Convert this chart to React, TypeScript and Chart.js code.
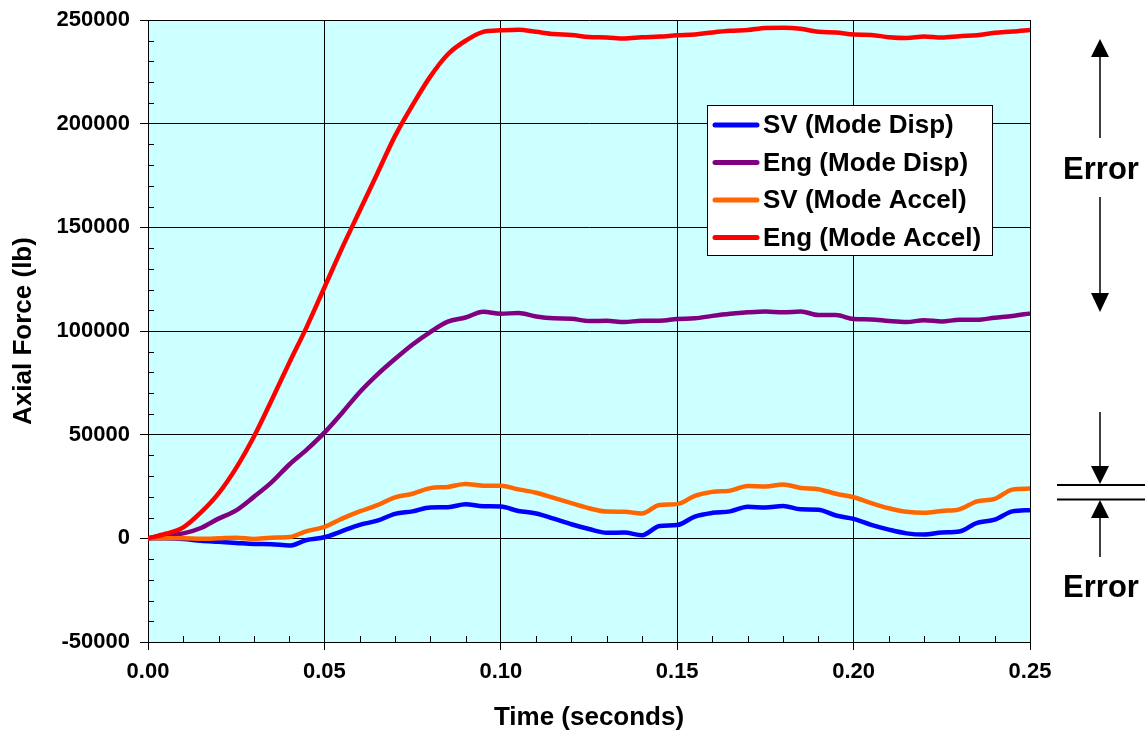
import React, { useEffect, useRef } from "react";
import { Chart, registerables } from "chart.js";

Chart.register(...registerables);

// ---------------- data ----------------
const timeSec = [
  0, 0.005, 0.01, 0.015, 0.02, 0.025, 0.03, 0.035, 0.04, 0.045,
  0.05, 0.055, 0.06, 0.065, 0.07, 0.075, 0.08, 0.085, 0.09, 0.095,
  0.1, 0.105, 0.11, 0.115, 0.12, 0.125, 0.13, 0.135, 0.14, 0.145,
  0.15, 0.155, 0.16, 0.165, 0.17, 0.175, 0.18, 0.185, 0.19, 0.195,
  0.2, 0.205, 0.21, 0.215, 0.22, 0.225, 0.23, 0.235, 0.24, 0.245, 0.25,
];

const svModeDisp = [
  0, 0, -300, -1200, -1700, -2200, -2700, -2800, -3500, -800,
  500, 3500, 6500, 8500, 11800, 13000, 14900, 15000, 16400, 15500,
  15300, 13200, 12000, 9500, 6800, 4500, 2700, 2800, 1500, 5900,
  6400, 10500, 12300, 13000, 15200, 14900, 15600, 14000, 13800, 11000,
  9400, 6500, 4200, 2400, 1800, 2800, 3300, 7500, 9000, 13000, 13600,
];

const engModeDisp = [
  0, 1500, 2400, 5000, 9500, 13500, 20000, 27000, 35500, 42800,
  51000, 60500, 70500, 79000, 86500, 93500, 99500, 104500, 106500, 109300,
  108300, 108700, 107000, 106100, 105900, 104800, 104900, 104300, 105000, 105000,
  105800, 106100, 107300, 108300, 109000, 109400, 109000, 109400, 107700, 107700,
  105800, 105600, 104800, 104300, 105200, 104600, 105400, 105400, 106400, 107200, 108500,
];

const svModeAccel = [
  0, 0, 0, -200, 0, 300, -300, 300, 600, 3500,
  5500, 9500, 13000, 16000, 19800, 21500, 24200, 24800, 26200, 25400,
  25400, 23600, 22000, 19500, 17000, 14500, 12900, 12800, 12000, 16100,
  16500, 20500, 22400, 23000, 25300, 25000, 26000, 24300, 23700, 21500,
  19800, 17000, 14500, 12800, 12300, 13200, 14000, 17800, 19000, 23500, 24000,
];

const engModeAccel = [
  0, 2200, 5300, 12500, 21700, 34000, 49000, 66500, 84500, 102000,
  121000, 140000, 158000, 176000, 194000, 209000, 222700, 233500, 240000, 244300,
  245000, 245300, 244300, 243200, 242800, 241800, 241600, 241100, 241700, 242000,
  242600, 243000, 244000, 244800, 245200, 246200, 246300, 245800, 244300, 244000,
  243000, 242800, 241700, 241300, 242000, 241500, 242200, 242600, 243800, 244400, 245200,
];

const seriesLabels = [
  "SV (Mode Disp)",
  "Eng (Mode Disp)",
  "SV (Mode Accel)",
  "Eng (Mode Accel)",
];
const seriesValues = [svModeDisp, engModeDisp, svModeAccel, engModeAccel];
const seriesColors = ["#0000FF", "#800080", "#FF6600", "#FF0000"];

const xMin = 0;
const xMax = 0.25;
const xMajorStep = 0.05;
const xMinorStep = 0.01;
const yMin = -50000;
const yMax = 250000;
const yMajorStep = 50000;
const yMinorStep = 10000;

const xTitle = "Time (seconds)";
const yTitle = "Axial Force (lb)";
const errorLabel = "Error";

const FONT = "'Liberation Sans', Arial, Helvetica, sans-serif";

// ---------------- plugins ----------------
const backgroundPlugin = {
  id: "plotBackground",
  beforeDraw(chart: any) {
    const { ctx, chartArea } = chart;
    ctx.save();
    ctx.fillStyle = "#FFFFFF";
    ctx.fillRect(0, 0, chart.width, chart.height);
    ctx.fillStyle = "#CCFFFF";
    ctx.fillRect(chartArea.left, chartArea.top, chartArea.right - chartArea.left, chartArea.bottom - chartArea.top);
    ctx.restore();
  },
};

const minorTickPlugin = {
  id: "minorTicks",
  beforeDatasetsDraw(chart: any) {
    const { ctx, chartArea, scales } = chart;
    const xs = scales.x;
    const ys = scales.y;
    ctx.save();
    ctx.strokeStyle = "#000000";
    ctx.lineWidth = 1;
    ctx.beginPath();
    const nY = Math.round((yMax - yMin) / yMinorStep);
    for (let i = 1; i < nY; i++) {
      if (i % Math.round(yMajorStep / yMinorStep) === 0) continue;
      const py = Math.round(ys.getPixelForValue(yMin + i * yMinorStep)) + 0.5;
      ctx.moveTo(chartArea.left, py);
      ctx.lineTo(chartArea.left + 6, py);
    }
    const nX = Math.round((xMax - xMin) / xMinorStep);
    for (let i = 1; i < nX; i++) {
      if (i % Math.round(xMajorStep / xMinorStep) === 0) continue;
      const px = Math.round(xs.getPixelForValue(xMin + i * xMinorStep)) + 0.5;
      ctx.moveTo(px, chartArea.bottom);
      ctx.lineTo(px, chartArea.bottom - 6);
    }
    ctx.stroke();
    ctx.restore();
  },
};

function drawArrowHead(ctx: CanvasRenderingContext2D, x: number, tipY: number, baseY: number) {
  ctx.beginPath();
  ctx.moveTo(x, tipY);
  ctx.lineTo(x - 9, baseY);
  ctx.lineTo(x + 9, baseY);
  ctx.closePath();
  ctx.fill();
}

const overlayPlugin = {
  id: "overlay",
  afterDraw(chart: any) {
    const { ctx } = chart;
    ctx.save();

    // legend
    const lx = 707;
    const ly = 105;
    const lw = 285;
    const lh = 150;
    ctx.fillStyle = "#FFFFFF";
    ctx.fillRect(lx, ly, lw, lh);
    ctx.strokeStyle = "#000000";
    ctx.lineWidth = 1;
    ctx.strokeRect(lx + 0.5, ly + 0.5, lw, lh);
    ctx.font = `bold 26px ${FONT}`;
    ctx.textBaseline = "middle";
    ctx.textAlign = "left";
    chart.data.datasets.forEach((ds: any, i: number) => {
      const rowY = ly + 20 + i * 37.5;
      ctx.strokeStyle = ds.borderColor;
      ctx.lineWidth = 5;
      ctx.lineCap = "round";
      ctx.beginPath();
      ctx.moveTo(lx + 8, rowY);
      ctx.lineTo(lx + 50, rowY);
      ctx.stroke();
      ctx.fillStyle = "#000000";
      ctx.fillText(ds.label, lx + 56, rowY + 1);
    });

    // error annotations
    const ax = 1100;
    ctx.strokeStyle = "#000000";
    ctx.fillStyle = "#000000";
    ctx.lineCap = "butt";
    ctx.lineWidth = 1.5;

    // upper: diverging arrows
    ctx.beginPath();
    ctx.moveTo(ax, 138);
    ctx.lineTo(ax, 56);
    ctx.moveTo(ax, 197);
    ctx.lineTo(ax, 294);
    ctx.stroke();
    drawArrowHead(ctx, ax, 39, 57);
    drawArrowHead(ctx, ax, 312, 293);

    // lower: converging arrows
    ctx.beginPath();
    ctx.moveTo(ax, 412);
    ctx.lineTo(ax, 468);
    ctx.moveTo(ax, 517);
    ctx.lineTo(ax, 557);
    ctx.stroke();
    drawArrowHead(ctx, ax, 484, 466);
    drawArrowHead(ctx, ax, 500, 518);
    ctx.lineWidth = 2;
    ctx.beginPath();
    ctx.moveTo(1057, 485);
    ctx.lineTo(1145, 485);
    ctx.moveTo(1057, 499.5);
    ctx.lineTo(1145, 499.5);
    ctx.stroke();

    ctx.font = `bold 31px ${FONT}`;
    ctx.textAlign = "center";
    ctx.textBaseline = "middle";
    ctx.fillText(errorLabel, 1101, 170);
    ctx.fillText(errorLabel, 1101, 588);

    ctx.restore();
  },
};

export default function App() {
  const canvasRef = useRef<HTMLCanvasElement | null>(null);

  useEffect(() => {
    if (!canvasRef.current) return;
    const datasets = seriesLabels.map((label, i) => ({
      label,
      data: timeSec.map((t, j) => ({ x: t, y: seriesValues[i][j] })),
      borderColor: seriesColors[i],
      backgroundColor: seriesColors[i],
      borderWidth: 4.5,
      pointRadius: 0,
      fill: false,
      cubicInterpolationMode: "monotone" as const,
      order: seriesLabels.length - i,
    }));

    const chart = new Chart(canvasRef.current, {
      type: "line",
      data: { datasets },
      options: {
        responsive: false,
        animation: false,
        devicePixelRatio: 1,
        layout: { padding: { top: 20, right: 115, bottom: 0, left: 0 } },
        plugins: {
          legend: { display: false },
          tooltip: { enabled: false },
          title: { display: false },
        },
        scales: {
          x: {
            type: "linear",
            min: xMin,
            max: xMax,
            afterFit(scale: any) {
              scale.height = 94;
            },
            ticks: {
              stepSize: xMajorStep,
              padding: 9,
              color: "#000000",
              font: { family: FONT, size: 22, weight: "bold" },
              maxRotation: 0,
              callback: (v: any) => Number(v).toFixed(2),
            },
            grid: { color: "#000000", lineWidth: 1, tickLength: 8, drawTicks: true },
            border: { display: true, color: "#000000", width: 1 },
            title: {
              display: true,
              text: xTitle,
              color: "#000000",
              font: { family: FONT, size: 26, weight: "bold" },
              padding: { top: 0, bottom: 3 },
            },
          },
          y: {
            type: "linear",
            min: yMin,
            max: yMax,
            afterFit(scale: any) {
              scale.width = 148;
              scale.paddingTop = 0;
              scale.paddingBottom = 0;
            },
            ticks: {
              stepSize: yMajorStep,
              padding: 10,
              color: "#000000",
              font: { family: FONT, size: 22, weight: "bold" },
              callback: (v: any) => String(v),
            },
            grid: { color: "#000000", lineWidth: 1, tickLength: 8, drawTicks: true },
            border: { display: true, color: "#000000", width: 1 },
            title: {
              display: true,
              text: yTitle,
              color: "#000000",
              font: { family: FONT, size: 26, weight: "bold" },
              padding: { top: 8, bottom: 0 },
            },
          },
        },
      },
      plugins: [backgroundPlugin, minorTickPlugin, overlayPlugin],
    });

    return () => {
      chart.destroy();
    };
  }, []);

  return (
    <div style={{ position: "fixed", left: 0, top: 0, width: 1145, height: 736, background: "#FFFFFF" }}>
      <canvas ref={canvasRef} width={1145} height={736} style={{ display: "block" }} />
    </div>
  );
}
